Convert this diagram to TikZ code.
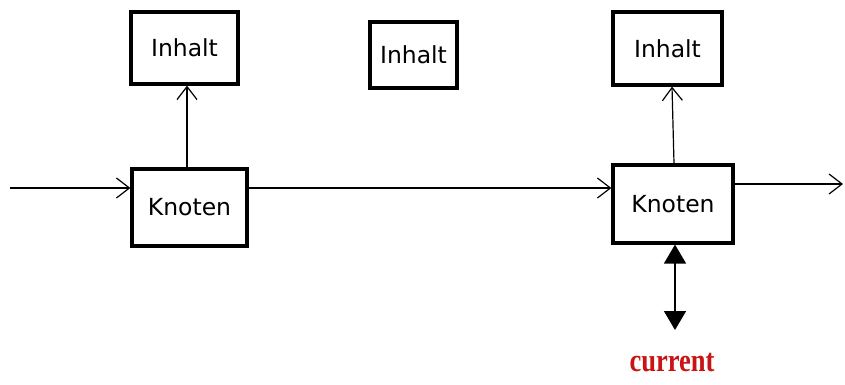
\documentclass[tikz,border=0pt]{standalone}
\usepackage{fontspec}
\setmainfont{DejaVu Sans}
\newfontfamily\tagfont{Liberation Serif}
\usetikzlibrary{arrows.meta}
\definecolor{tagred}{RGB}{200,20,20}
\begin{document}
\begin{tikzpicture}[x=1pt,y=-1pt,
  box/.style={draw,line width=3.2pt,fill=white,inner sep=0pt,
    font=\fontsize{23.5}{26}\selectfont},
  link/.style={line width=1.2pt,-{Straight Barb[length=13pt,width=20pt,line width=1.2pt]}},
  dbl/.style={line width=1.5pt,{Triangle[length=19pt,width=22pt]}-{Triangle[length=19pt,width=22pt]}}]
  \useasboundingbox (0,0) rectangle (845,384);

  % content boxes
  \node[box,minimum width=107pt,minimum height=72pt] (in1) at (184.5,48) {Inhalt};
  \node[box,minimum width=87pt,minimum height=66pt] (in2) at (413.5,55) {Inhalt};
  \node[box,minimum width=109pt,minimum height=73pt] (in3) at (667.5,48.5) {Inhalt};

  % list nodes
  \node[box,minimum width=115pt,minimum height=77pt] (kn1) at (189.5,207.5) {Knoten};
  \node[box,minimum width=120pt,minimum height=78pt] (kn2) at (673,204) {Knoten};

  % loose ends of the chain
  \coordinate (start) at (10,188);
  \coordinate (end) at (843,184);
  \coordinate (cur) at (675,330);

  % chain links
  \draw[link] (start) -- (kn1.west |- start);
  \draw[link] (kn1.east |- 0,188) -- (kn2.west |- 0,188);
  \draw[link] (kn2.east |- end) -- (end);

  % content pointers
  \draw[link] (kn1.north -| 187,0) -- (in1.south -| 187,0);
  \draw[link] (kn2.north -| 674,0) -- (in3.south -| 672,0);

  % current pointer
  \draw[dbl] (kn2.south -| cur) -- (cur);
  \node[text=tagred,font=\tagfont\bfseries\fontsize{26}{28}\selectfont] (lbl) at (672,363) {\scalebox{1.02}[1.25]{current}};
\end{tikzpicture}
\end{document}
